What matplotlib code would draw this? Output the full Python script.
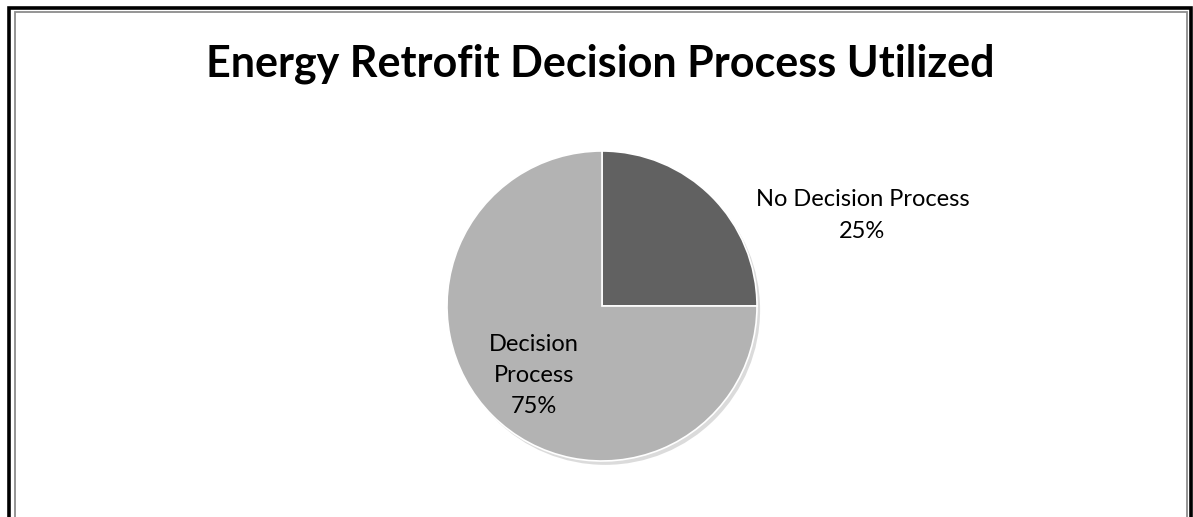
import matplotlib
matplotlib.use("Agg")
import matplotlib.pyplot as plt
from matplotlib.patches import Circle
from matplotlib.lines import Line2D

title = "Energy Retrofit Decision Process Utilized"
categories = ["No Decision Process", "Decision\nProcess"]
shares = [25, 75]
colors = ["#616161", "#b3b3b3"]

W, H = 1193, 517
plt.rcParams['font.family'] = ['Lato', 'DejaVu Sans']
fig = plt.figure(figsize=(W / 100, H / 100), dpi=100)

# frame: black outer line, gray inner line (open at the bottom)
def frame(x0, y0, x1, color, lw):
    fx0, fx1 = x0 / W, x1 / W
    fy = 1 - y0 / H
    fig.add_artist(Line2D([fx0, fx0, fx1, fx1], [0, fy, fy, 0],
                          transform=fig.transFigure, color=color, lw=lw,
                          solid_joinstyle='miter'))

frame(8.5, 8, 1190.5, "black", 2.6)
frame(14.5, 11.5, 1186.5, "#8c8c8c", 1.3)

fig.text(600 / W, 1 - 77 / H, title, ha='center', va='baseline',
         fontsize=31, fontweight='bold')

# pie: centre (602, 306) px, radius 155 px
r, cx, cy = 155, 602, 306
ax = fig.add_axes([(cx - 2.5 * r) / W, (H - cy - 1.3 * r) / H, 5 * r / W, 2.6 * r / H])

ax.add_patch(Circle((0.02, -0.025), 1.0, color='#999999', alpha=0.35, lw=0))
wedges, _ = ax.pie(shares, colors=colors, startangle=90, counterclock=False,
                   radius=1.0, wedgeprops=dict(edgecolor='white', linewidth=1.2))
ax.set_xlim(-2.5, 2.5)
ax.set_ylim(-1.3, 1.3)
ax.axis('off')

label_pos = [(1.68, 0.584), (-0.44, -0.45)]
for name, val, (x, y) in zip(categories, shares, label_pos):
    ax.text(x, y, f"{name}\n{val}%", ha='center', va='center', fontsize=17,
            linespacing=1.6)

fig.savefig("out.png", dpi=100)
